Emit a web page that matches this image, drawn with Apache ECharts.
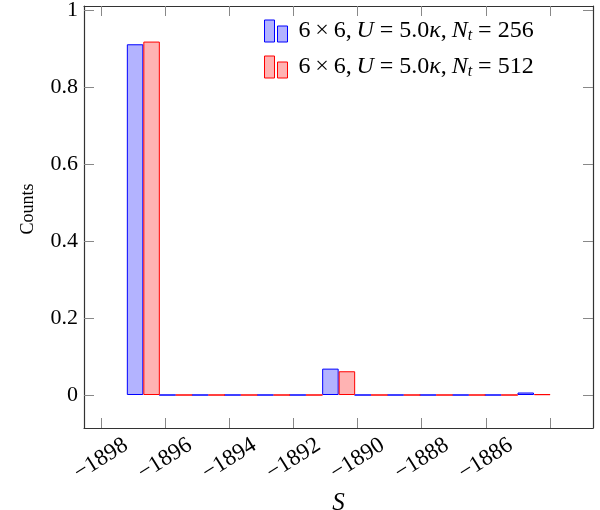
<!DOCTYPE html>
<html>
<head>
<meta charset="utf-8">
<script src="https://cdn.jsdelivr.net/npm/echarts@6/dist/echarts.min.js"></script>
<style>html,body{margin:0;padding:0;background:#fff}#c{width:600px;height:510px}</style>
</head>
<body>
<div id="c"></div>
<script>
// bin centres of the histogram (S)
var binCenters = [-1896.68, -1895.67, -1894.65, -1893.64, -1892.62, -1891.61, -1890.59, -1889.58, -1888.56, -1887.55, -1886.53, -1885.52, -1884.50];
// normalised counts
var countsNt256 = [0.911, 0, 0, 0, 0, 0, 0.0685, 0, 0, 0, 0, 0, 0.0065];
var countsNt512 = [0.918, 0, 0, 0, 0, 0, 0.0617, 0, 0, 0, 0, 0, 0.002];
// axis ticks
var xTickValues = [-1898, -1896, -1894, -1892, -1890, -1888, -1886, -1884];
var xLabelValues = [-1898, -1896, -1894, -1892, -1890, -1888, -1886];
var xTickLabels = ['\u22121898', '\u22121896', '\u22121894', '\u22121892', '\u22121890', '\u22121888', '\u22121886'];
var yTickValues = [0, 0.2, 0.4, 0.6, 0.8, 1];
var yTickLabels = ['0', '0.2', '0.4', '0.6', '0.8', '1'];
var xMin = -1898.53, xMax = -1882.66, yMin = -0.0857, yMax = 1.0104;

var FONT = '"Liberation Serif", serif';
function pairs(vals) { return binCenters.map(function (c, i) { return [c, vals[i]]; }); }

var tickStyle = { show: true, inside: true, length: 10, lineStyle: { color: '#888', width: 1 } };
var lineStyle = { show: true, onZero: false, lineStyle: { color: '#333', width: 1.2 } };

var chart = echarts.init(document.getElementById('c'), null, { renderer: 'canvas' });
chart.setOption({
  animation: false,
  grid: { left: 84, right: 7, top: 6, bottom: 82, containLabel: false, outerBoundsMode: 'none' },
  xAxis: [{
    type: 'value', min: xMin, max: xMax, position: 'bottom',
    axisLine: lineStyle,
    axisTick: Object.assign({ customValues: xTickValues }, tickStyle),
    splitLine: { show: false },
    axisLabel: {
      customValues: xLabelValues, rotate: 32, margin: 31, align: 'center', verticalAlign: 'middle',
      fontFamily: FONT, fontSize: 23, color: '#000',
      formatter: function (v) { var i = xLabelValues.indexOf(v); return i >= 0 ? xTickLabels[i] : ''; }
    },
    name: 'S', nameLocation: 'middle', nameGap: 58,
    nameTextStyle: { fontFamily: FONT, fontStyle: 'italic', fontSize: 25, color: '#000' }
  }, {
    type: 'value', min: xMin, max: xMax, position: 'top',
    axisLine: lineStyle,
    axisTick: Object.assign({ customValues: xTickValues }, tickStyle),
    axisLabel: { show: false }, splitLine: { show: false }
  }],
  yAxis: [{
    type: 'value', min: yMin, max: yMax, position: 'left',
    axisLine: lineStyle,
    axisTick: Object.assign({ customValues: yTickValues }, tickStyle),
    splitLine: { show: false },
    axisLabel: {
      customValues: yTickValues, margin: 6, fontFamily: FONT, fontSize: 22, color: '#000',
      formatter: function (v) { var i = yTickValues.indexOf(v); return i >= 0 ? yTickLabels[i] : ''; }
    },
    name: 'Counts', nameLocation: 'middle', nameGap: 47, nameRotate: 90,
    nameTextStyle: { fontFamily: FONT, fontSize: 18, color: '#000', padding: [0, 0, 0, 16] }
  }, {
    type: 'value', min: yMin, max: yMax, position: 'right',
    axisLine: lineStyle,
    axisTick: Object.assign({ customValues: yTickValues }, tickStyle),
    axisLabel: { show: false }, splitLine: { show: false }
  }],
  legend: {
    orient: 'vertical', left: 259, top: 14, itemWidth: 23, itemHeight: 22, itemGap: 11,
    icon: 'path://M0,0 H10 V22 H0 Z M13,6 H23 V22 H13 Z',
    itemStyle: { borderWidth: 1 },
    textStyle: {
      fontFamily: FONT, fontSize: 24, color: '#000', padding: [0, 0, 0, 6],
      rich: {
        i: { fontFamily: FONT, fontStyle: 'italic', fontSize: 24, color: '#000' },
        s: { fontFamily: FONT, fontStyle: 'italic', fontSize: 16, color: '#000', verticalAlign: 'bottom', padding: [10, 0, 0, 0] }
      }
    },
    formatter: function (name) {
      var n = name === 'Nt256' ? '256' : '512';
      return '6\u2009\u00d7\u20096,\u2009{i|U} = 5.0{i|\u03ba},\u2009{i|N}{s|t} = ' + n;
    },
    data: ['Nt256', 'Nt512']
  },
  series: [{
    name: 'Nt256', type: 'bar', barWidth: 16.5, barGap: '0%',
    data: pairs(countsNt256),
    itemStyle: { color: 'rgb(179,179,255)', borderColor: '#0000ff', borderWidth: 1 }
  }, {
    name: 'Nt512', type: 'bar', barWidth: 16.5, barGap: '0%',
    data: pairs(countsNt512),
    itemStyle: { color: 'rgb(255,179,179)', borderColor: '#ff0000', borderWidth: 1 }
  }]
});
</script>
</body>
</html>
